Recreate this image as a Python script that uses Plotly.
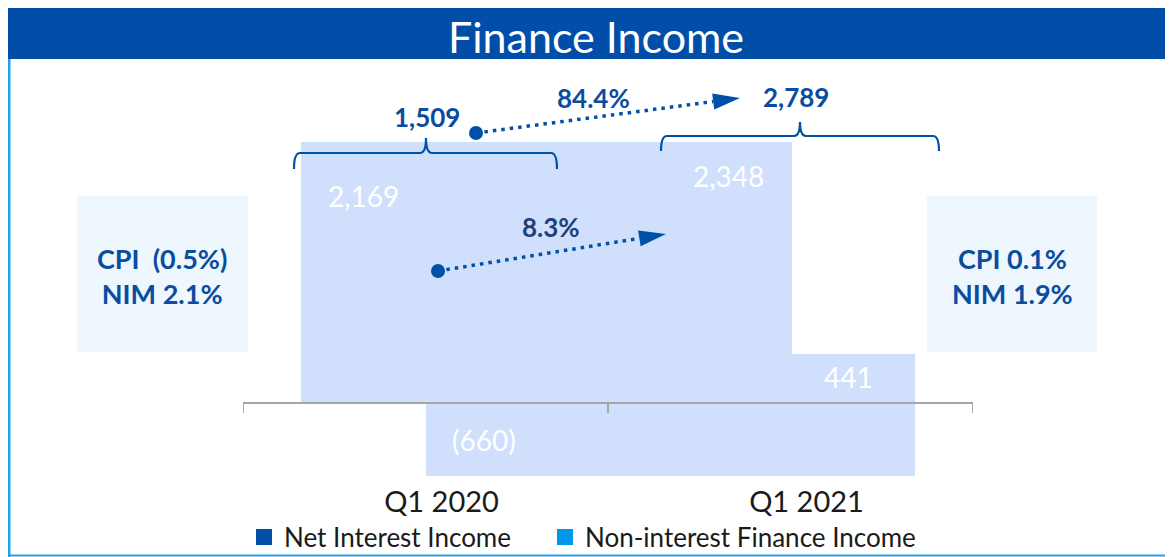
import plotly.graph_objects as go
import math

# ---------------- data ----------------
categories = ["Q1 2020", "Q1 2021"]
net_interest_income = [2169, 2348]
non_interest_finance_income = [-660, 441]
totals = [1509, 2789]
growth_total = "84.4%"
growth_nii = "8.3%"
cpi = ["(0.5%)", "0.1%"]
nim = ["2.1%", "1.9%"]
series_names = ["Net Interest Income", "Non-interest Finance Income"]

# ---------------- style ----------------
# the page body has an 8px margin; positions below are in page pixels
W, H = 1173, 549
L, R, T, B = 235, 208, 62, 75
PW, PH = W - L - R, H - T - B
PX0, PY0 = 8 + L, 8 + T  # page position of plot-area top-left
FONT = "Lato"
DARK = "#0050a8"
BRIGHT = "#0096ea"
BAR_FILL = "#d0e0fc"
TEXT_BLUE = "#0a4c9e"
NAVY = "#1e3f78"
BOX_FILL = "#eef6fe"


def fx(p):
    return (p - PX0) / PW


def fy(p):
    return (PY0 + PH - p) / PH


def fmt(v):
    return f"({abs(v):,})" if v < 0 else f"{v:,}"


fig = go.Figure()

# bars (as drawn in the reference: wide pale overlapping blocks)
fig.add_trace(go.Bar(
    x=categories, y=net_interest_income, name=series_names[0],
    offset=[-0.34, -1.34], width=[0.34, 1.345],
    marker=dict(color=BAR_FILL, line=dict(width=0)), showlegend=False,
    hoverinfo="skip"))
fig.add_trace(go.Bar(
    x=categories, y=non_interest_finance_income, name=series_names[1],
    offset=[0, 0], width=[1.34, 0.34],
    marker=dict(color=BAR_FILL, line=dict(width=0)), showlegend=False,
    hoverinfo="skip"))

# legend entries
fig.add_trace(go.Scatter(x=[None], y=[None], mode="markers", name=series_names[0], legend="legend",
                         marker=dict(symbol="square", size=16, color=DARK)))
fig.add_trace(go.Scatter(x=[None], y=[None], mode="markers", name=series_names[1], legend="legend2",
                         marker=dict(symbol="square", size=16, color=BRIGHT)))


def ann(x, y, text, size, color, **kw):
    d = dict(x=x, y=y, text=text, showarrow=False, xanchor="center", yanchor="middle",
             font=dict(family=FONT, size=size, color=color))
    d.update(kw)
    return d


annotations = []
# value labels inside bars
for cat, v in zip(categories, net_interest_income):
    annotations.append(ann(cat, v, fmt(v), 28, "white", xref="x", yref="y", xshift=-62, yshift=-34))
for cat, v in zip(categories, non_interest_finance_income):
    annotations.append(ann(cat, v, fmt(v), 28, "white", xref="x", yref="y", xshift=58,
                           yshift=(36 if v < 0 else -23)))

# title
annotations.append(ann(fx(596), fy(37), "Finance Income", 43, "white", xref="paper", yref="paper"))

# totals and growth
annotations.append(ann(fx(427), fy(117), f"<b>{totals[0]:,}</b>", 26, TEXT_BLUE, xref="paper", yref="paper"))
annotations.append(ann(fx(796), fy(97), f"<b>{totals[1]:,}</b>", 26, TEXT_BLUE, xref="paper", yref="paper"))
annotations.append(ann(fx(593), fy(98), f"<b>{growth_total}</b>", 26, TEXT_BLUE, xref="paper", yref="paper"))
annotations.append(ann(fx(551), fy(227), f"<b>{growth_nii}</b>", 26, NAVY, xref="paper", yref="paper"))

# CPI / NIM boxes
for cx, c, n in [(162, cpi[0], nim[0]), (1012, cpi[1], nim[1])]:
    sep = "\u00a0\u00a0" if c.startswith("(") else " "
    annotations.append(ann(fx(cx), fy(276), f"<b>CPI{sep}{c}<br>NIM {n}</b>", 27, TEXT_BLUE,
                           xref="paper", yref="paper"))

shapes = []
# header bar
shapes.append(dict(type="rect", xref="paper", yref="paper", x0=fx(5), x1=fx(1190), y0=fy(59), y1=fy(0),
                   fillcolor="#004ea8", line=dict(width=0), layer="below"))
# frame lines
shapes.append(dict(type="line", xref="paper", yref="paper", x0=fx(9), x1=fx(9), y0=fy(59), y1=fy(560),
                   line=dict(color="#1aa3f0", width=3)))
shapes.append(dict(type="line", xref="paper", yref="paper", x0=fx(8), x1=fx(1190), y0=fy(555.5), y1=fy(555.5),
                   line=dict(color="#1aa3f0", width=2)))
# boxes
for x0, x1 in [(77, 248), (927, 1097)]:
    shapes.append(dict(type="rect", xref="paper", yref="paper", x0=fx(x0), x1=fx(x1), y0=fy(352), y1=fy(196),
                       fillcolor=BOX_FILL, line=dict(width=0), layer="below"))

# category axis baseline with boundary ticks
shapes.append(dict(type="line", xref="x", yref="y", x0=-0.5, x1=1.5, y0=0, y1=0,
                   line=dict(color="#a6a6a6", width=2), layer="above"))
for xb in [-0.5, 0.5, 1.5]:
    shapes.append(dict(type="line", xref="x", yref="y", ysizemode="pixel", yanchor=0,
                       x0=xb, x1=xb, y0=0, y1=-10, line=dict(color="#a6a6a6", width=2), layer="above"))


# braces
def brace(xl, xr, xm, ybot, ymid, ytop):
    r = 6
    pts = [
        f"M{fx(xl)},{fy(ybot)}",
        f"Q{fx(xl)},{fy(ymid)} {fx(xl + r)},{fy(ymid)}",
        f"L{fx(xm - r)},{fy(ymid)}",
        f"Q{fx(xm)},{fy(ymid)} {fx(xm)},{fy(ytop)}",
        f"Q{fx(xm)},{fy(ymid)} {fx(xm + r)},{fy(ymid)}",
        f"L{fx(xr - r)},{fy(ymid)}",
        f"Q{fx(xr)},{fy(ymid)} {fx(xr)},{fy(ybot)}",
    ]
    return dict(type="path", xref="paper", yref="paper", path=" ".join(pts),
                line=dict(color=DARK, width=2.2))


shapes.append(brace(294, 557, 426, 169, 153, 138))
shapes.append(brace(661, 939, 800, 151, 136, 122))


# dotted arrows
def arrow(x0, y0, x1, y1):
    out = []
    rdot = 7
    out.append(dict(type="circle", xref="paper", yref="paper", x0=fx(x0 - rdot), x1=fx(x0 + rdot),
                    y0=fy(y0 + rdot), y1=fy(y0 - rdot), fillcolor=DARK, line=dict(width=0)))
    d = math.hypot(x1 - x0, y1 - y0)
    ux, uy = (x1 - x0) / d, (y1 - y0) / d
    hl, hw = 27, 8
    bx, by = x1 - ux * hl, y1 - uy * hl
    out.append(dict(type="line", xref="paper", yref="paper", x0=fx(x0), y0=fy(y0), x1=fx(bx), y1=fy(by),
                    line=dict(color=DARK, width=3.5, dash="3.5px,5px")))
    px_, py_ = -uy, ux
    path = (f"M{fx(x1)},{fy(y1)} L{fx(bx + px_ * hw)},{fy(by + py_ * hw)} "
            f"L{fx(bx - px_ * hw)},{fy(by - py_ * hw)} Z")
    out.append(dict(type="path", xref="paper", yref="paper", path=path, fillcolor=DARK, line=dict(width=0)))
    return out


shapes += arrow(476, 133, 740, 98)
shapes += arrow(438, 271, 666, 234)

legend_common = dict(orientation="h", xanchor="left", yanchor="middle",
                     font=dict(family=FONT, size=26, color="#1a1a1a"),
                     bgcolor="rgba(0,0,0,0)", borderwidth=0)

fig.update_layout(
    width=W, height=H,
    margin=dict(l=L, r=R, t=T, b=B, autoexpand=False),
    paper_bgcolor="white", plot_bgcolor="rgba(0,0,0,0)",
    barmode="overlay", bargap=0,
    font=dict(family=FONT),
    xaxis=dict(type="category", range=[-0.5, 1.5], showgrid=False, zeroline=False, showline=False,
               ticks="", tickfont=dict(family=FONT, size=29, color="#1a1a1a"), ticklabelshift=16,
               fixedrange=True),
    yaxis=dict(range=[-710, 2995], visible=False, fixedrange=True),
    showlegend=True,
    legend=dict(x=fx(244), y=fy(537), **legend_common),
    legend2=dict(x=fx(545), y=fy(537), **legend_common),
    annotations=annotations,
    shapes=shapes,
)

fig.write_html("out.html")
